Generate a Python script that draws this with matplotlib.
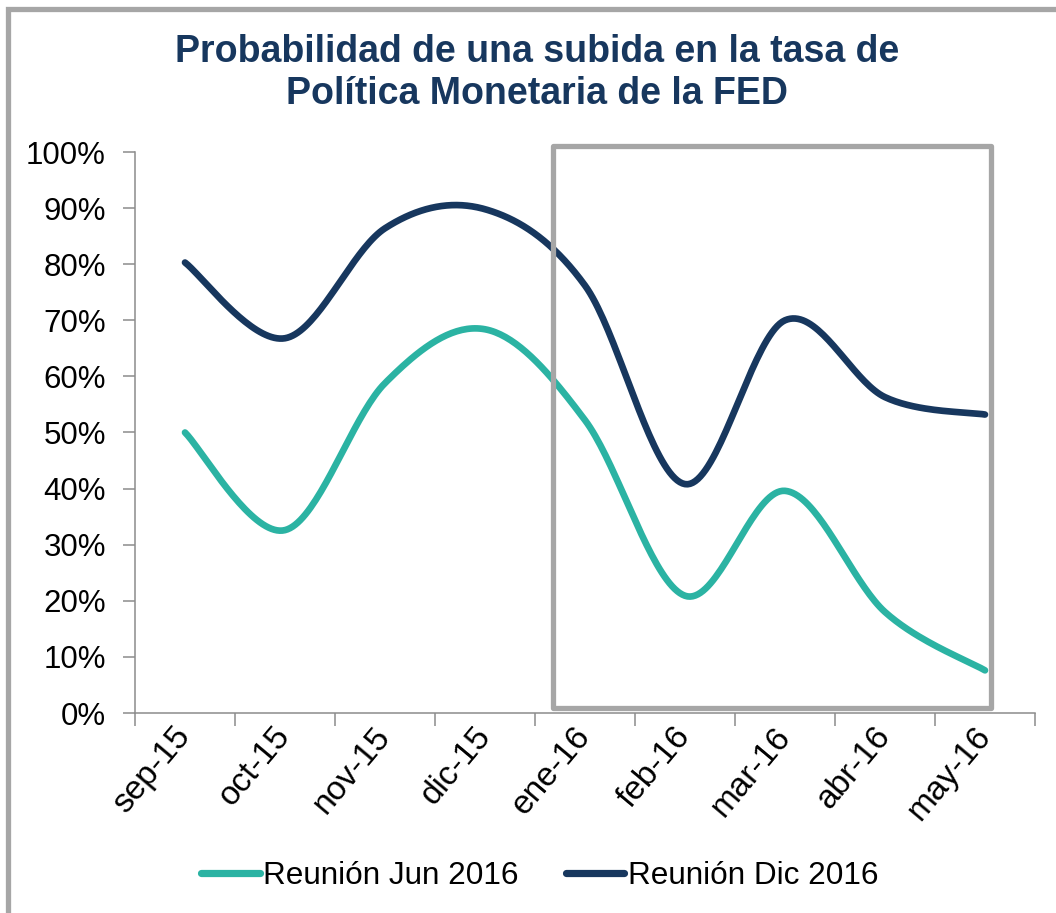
import matplotlib
matplotlib.use("Agg")
import matplotlib.pyplot as plt
from matplotlib.patches import Rectangle
import numpy as np

plt.rcParams['font.family'] = ['Liberation Sans', 'DejaVu Sans']

meses = ['sep-15', 'oct-15', 'nov-15', 'dic-15', 'ene-16',
         'feb-16', 'mar-16', 'abr-16', 'may-16']
jun_2016 = [50.0, 32.6, 58.8, 68.4, 52.2, 20.9, 39.6, 18.0, 7.6]
dic_2016 = [80.3, 66.8, 86.4, 89.8, 76.2, 40.8, 70.0, 56.3, 53.2]

teal = '#2bb3a3'
navy = '#17375e'
gris = '#a6a6a6'
eje = '#8c8c8c'


def suavizar(x, y, n=40):
    # curva tipo Excel (Catmull-Rom con beziers cubicos)
    p = np.column_stack([x, y]).astype(float)
    p = np.vstack([p[0], p, p[-1]])
    out = []
    t = np.linspace(0, 1, n)[:, None]
    for i in range(1, len(p) - 2):
        p0, p1, p2, p3 = p[i - 1], p[i], p[i + 1], p[i + 2]
        c1 = p1 + (p2 - p0) / 6
        c2 = p2 - (p3 - p1) / 6
        seg = ((1 - t) ** 3) * p1 + 3 * ((1 - t) ** 2) * t * c1 \
            + 3 * (1 - t) * t ** 2 * c2 + t ** 3 * p2
        out.append(seg if i == 1 else seg[1:])
    s = np.vstack(out)
    return s[:, 0], s[:, 1]


fig = plt.figure(figsize=(10.56, 9.13), dpi=100)
ax = fig.add_axes([135 / 1056, 1 - 713 / 913, 900 / 1056, 561 / 913])

x = np.arange(len(meses))
xs, ys = suavizar(x, jun_2016)
ax.plot(xs, ys, color=teal, lw=4.8, solid_capstyle='round', label='Reunión Jun 2016')
xs, ys = suavizar(x, dic_2016)
ax.plot(xs, ys, color=navy, lw=4.8, solid_capstyle='round', label='Reunión Dic 2016')

# recuadro de los ultimos meses
ax.add_patch(Rectangle((3.675, 0.9), 8.055 - 3.675, 101.0 - 0.9, fill=False,
                       edgecolor=gris, lw=3.8, joinstyle='round', clip_on=False, zorder=5))

ax.set_xlim(-0.5, 8.5)
ax.set_ylim(0, 100)
ax.set_yticks(np.arange(0, 101, 10))
ax.set_yticklabels([f'{v}%' for v in range(0, 101, 10)])
ax.set_xticks(x)
ax.set_xticklabels(meses, rotation=50, ha='right', va='center', rotation_mode='anchor')
ax.set_xticks(np.arange(-0.5, 9, 1), minor=True)
ax.tick_params(axis='x', which='major', length=0, pad=13, labelsize=24)
ax.tick_params(axis='x', which='minor', length=9, width=1.1, color=eje, direction='out')
ax.tick_params(axis='y', length=9, width=1.1, color=eje, pad=12, labelsize=22.5)

for s in ['top', 'right']:
    ax.spines[s].set_visible(False)
for s in ['left', 'bottom']:
    ax.spines[s].set_color(eje)
    ax.spines[s].set_linewidth(1.1)

fig.text(537 / 1056, 1 - 73 / 913,
         'Probabilidad de una subida en la tasa de\nPolítica Monetaria de la FED',
         ha='center', va='center', fontsize=27, fontweight='bold', color=navy,
         linespacing=1.2)

leg = fig.legend(loc='center', bbox_to_anchor=(540 / 1056, 1 - 876 / 913), ncol=2,
                 frameon=False, fontsize=22.7, handlelength=1.85, handletextpad=0.12,
                 columnspacing=1.5)
for h in leg.get_lines():
    h.set_linewidth(5.2)
    h.set_solid_capstyle('round')

# marco exterior del grafico
fig.patches.append(Rectangle((8 / 1056, -0.1), 1.2, 1 - 9.5 / 913 + 0.1, fill=False,
                             edgecolor=gris, lw=3.8, transform=fig.transFigure,
                             figure=fig))

fig.savefig('out.png', dpi=100)
